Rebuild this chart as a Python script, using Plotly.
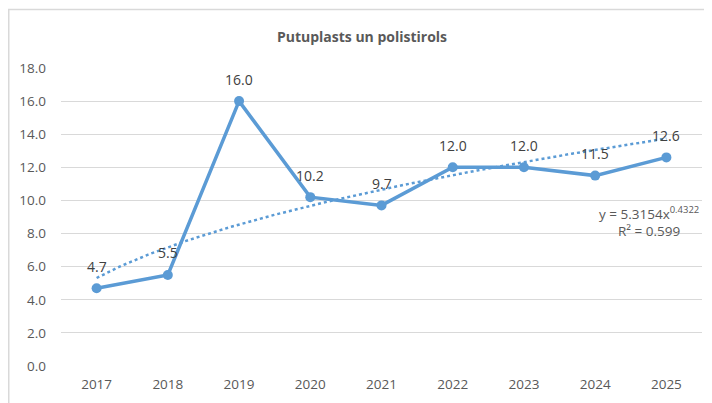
import numpy as np
import plotly.graph_objects as go

years = [2017, 2018, 2019, 2020, 2021, 2022, 2023, 2024, 2025]
values = [4.7, 5.5, 16.0, 10.2, 9.7, 12.0, 12.0, 11.5, 12.6]
labels = ["4.7", "5.5", "16.0", "10.2", "9.7", "12.0", "12.0", "11.5", "12.6"]
y_ticks = [0, 2, 4, 6, 8, 10, 12, 14, 16, 18]
title = "Putuplasts un polistirols"

# Power trendline as shown on chart: y = a * x^b, x = 1..n
trend_a = 5.3154
trend_b = 0.4322
trend_text = "y = 5.3154x<sup>0.4322</sup><br>R² = 0.599"

t_idx = np.linspace(1, len(years), 200)
t_x = years[0] - 1 + t_idx
t_y = trend_a * t_idx ** trend_b

FONT = "Open Sans"
BLUE = "#5B9BD5"
W, H = 704, 395          # page body adds an 8px margin
L, R, T, B = 53, 10, 60, 37
PW, PH = W - L - R, H - T - B
PB = H - B               # plot bottom in figure px

fig = go.Figure()
fig.add_trace(go.Scatter(
    x=years, y=values, mode="lines+markers",
    line=dict(color=BLUE, width=3.5),
    marker=dict(color=BLUE, size=10),
    hoverinfo="skip", showlegend=False,
))
fig.add_trace(go.Scatter(
    x=t_x, y=t_y, mode="lines",
    line=dict(color=BLUE, width=2.5, dash="dot"),
    hoverinfo="skip", showlegend=False,
))

for x, y, t in zip(years, values, labels):
    fig.add_annotation(x=x, y=y, text=t, showarrow=False, yshift=22,
                       font=dict(family=FONT, size=14, color="#404040"))

fig.add_annotation(x=(693 - L) / PW, y=(PB - 213) / PH, xref="paper", yref="paper",
                   text=trend_text, showarrow=False, align="center",
                   xanchor="right", yanchor="middle",
                   font=dict(family=FONT, size=13.5, color="#595959"))

fig.add_shape(type="rect", xref="paper", yref="paper",
              x0=(0.75 - L) / PW, x1=(740 - L) / PW,
              y0=(PB - 440) / PH, y1=(PB - 1.5) / PH,
              line=dict(color="#D9D9D9", width=1.5), layer="below")

fig.update_layout(
    width=W, height=H,
    margin=dict(l=L, r=R, t=T, b=B, autoexpand=False),
    paper_bgcolor="white", plot_bgcolor="white",
    title=dict(text="<b>" + title + "</b>", x=354 / W, xanchor="center",
               y=1 - 29 / H, yanchor="middle",
               font=dict(family=FONT, size=14, color="#595959")),
    xaxis=dict(range=[2016.5, 2025.5], tickvals=years,
               ticktext=[str(y) for y in years],
               showgrid=False, zeroline=False, showline=False, automargin=False,
               ticks="", ticklabelstandoff=8,
               tickfont=dict(family=FONT, size=13.5, color="#595959")),
    yaxis=dict(range=[0, 18], tickvals=y_ticks,
               ticktext=[f"{v:.1f}" for v in y_ticks],
               showgrid=True, gridcolor="#D9D9D9", gridwidth=1,
               zeroline=False, showline=False, ticks="", automargin=False,
               ticklabelstandoff=14,
               tickfont=dict(family=FONT, size=13.5, color="#595959")),
)

fig.write_html("out.html")
